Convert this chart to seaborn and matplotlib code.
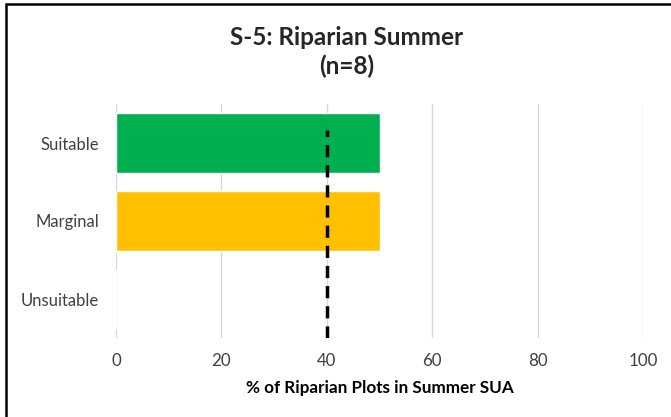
import matplotlib
matplotlib.use("Agg")
import matplotlib.pyplot as plt
import seaborn as sns
import pandas as pd
from matplotlib.lines import Line2D

categories = ["Suitable", "Marginal", "Unsuitable"]
values = [50, 50, 0]
colors = ["#00B050", "#FFC000", "#A5A5A5"]
threshold = 40
x_ticks = [0, 20, 40, 60, 80, 100]
title = "S-5: Riparian Summer\n(n=8)"
xlabel = "% of Riparian Plots in Summer SUA"

sns.set_theme(style="white")
plt.rcParams['font.family'] = ['Lato', 'DejaVu Sans']

df = pd.DataFrame({"cat": categories, "val": values})

fig = plt.figure(figsize=(6.71, 4.17), dpi=100)
ax = fig.add_axes([116/671, 1 - 338/417, (643 - 116)/671, (338 - 104)/417])

sns.barplot(data=df, x="val", y="cat", hue="cat", palette=colors, order=categories,
            hue_order=categories, orient="h", width=0.78, ax=ax, legend=False,
            zorder=2, saturation=1)

ax.set_xlim(0, 100)
ax.set_ylim(2.5, -0.5)
ax.set_xticks(x_ticks)
ax.set_xticklabels([str(t) for t in x_ticks], fontsize=12.2, color="#404040")
ax.tick_params(axis="y", labelsize=12, labelcolor="#404040", length=0, pad=12)
ax.tick_params(axis="x", length=0, pad=11)
ax.grid(axis="x", color="#D9D9D9", linewidth=1, zorder=0)
ax.set_axisbelow(True)
for s in ax.spines.values():
    s.set_visible(False)
ax.set_ylabel("")
ax.set_xlabel(xlabel, fontsize=12.3, fontweight="bold", color="black", labelpad=8)

ax.axvline(threshold, ymin=0.0, ymax=0.89, color="black", linewidth=2.5,
           linestyle=(0, (3.5, 2.3)), zorder=3)

fig.text(347/671, 1 - 52/417, title, ha="center", va="center", fontsize=17.5,
         fontweight="bold", linespacing=1.3)

# frame (top and left edges visible)
fig.add_artist(Line2D([6/671, 6/671], [0, 1 - 4/417], transform=fig.transFigure,
                      color="black", linewidth=1.8))
fig.add_artist(Line2D([6/671, 1], [1 - 4/417, 1 - 4/417], transform=fig.transFigure,
                      color="black", linewidth=1.8))

fig.savefig("out.png", dpi=100)
